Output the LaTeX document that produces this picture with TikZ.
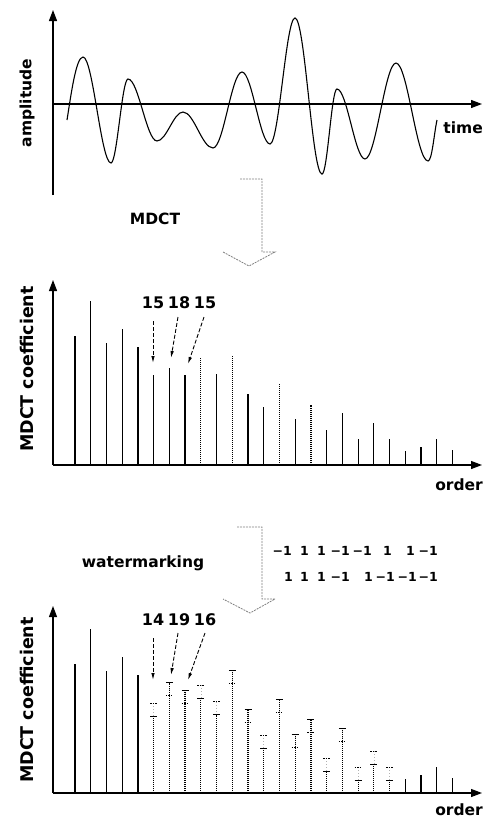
\documentclass[tikz,border=0pt]{standalone}
\usepackage{fontspec}
\setmainfont{DejaVu Sans}
\usetikzlibrary{arrows.meta}
\begin{document}
\begin{tikzpicture}[x=1pt,y=-1pt,
  axis/.style={line width=1.2pt,-{Triangle[length=11pt,width=8pt]}},
  lbl/.style={font=\bfseries\fontsize{15.5}{18}\selectfont, inner sep=0pt},
  vlbl/.style={font=\bfseries\fontsize{17.5}{20}\selectfont, inner sep=0pt, rotate=90},
  num/.style={font=\bfseries\fontsize{16}{18}\selectfont, inner sep=0pt},
  bits/.style={font=\bfseries\fontsize{12.5}{14}\selectfont, inner sep=0pt, anchor=east},
  larr/.style={line width=0.9pt, dash pattern=on 4pt off 2pt, -{Latex[length=7pt,width=3.5pt]}},
  bigarr/.style={gray, line width=0.8pt, dash pattern=on 2pt off 1pt},
  sbar/.style={line width=1.25pt},
  dbar/.style={line width=1.25pt, dash pattern=on 1.2pt off 0.8pt},
  tickmk/.style={line width=1pt},
  tickd/.style={line width=1pt, dash pattern=on 1.5pt off 1pt},
  faint/.style={gray!60, line width=0.6pt, dash pattern=on 1pt off 2pt}]
\useasboundingbox (0,0) rectangle (490,819);

% ---------- top: signal ----------
\coordinate (o1) at (53,104);
\coordinate (y1b) at (53,195);
\coordinate (y1t) at (53,10);
\coordinate (x1e) at (482,104);
\draw[axis] (y1b) -- (y1t);
\draw[axis] (o1) -- (x1e);
\node[vlbl, font=\bfseries\fontsize{15.5}{18}\selectfont] (amp) at (27,103) {amplitude};
\node[lbl, anchor=east] (time) at (483,128) {time};
\draw[line width=1.1pt] (67,120) .. controls +(4,-25) and +(-7,0) .. (83,57)
 .. controls +(10,0) and +(-10,0) .. (111,163)
 .. controls +(6,0) and +(-6,0) .. (128,79)
 .. controls +(10.5,0) and +(-10.5,0) .. (157,141)
 .. controls +(9.5,0) and +(-9.5,0) .. (183,112)
 .. controls +(11,0) and +(-11,0) .. (213,148)
 .. controls +(10.5,0) and +(-10.5,0) .. (242,72)
 .. controls +(10,0) and +(-10,0) .. (270,144)
 .. controls +(9,0) and +(-9,0) .. (295,18)
 .. controls +(10,0) and +(-10,0) .. (322,174)
 .. controls +(5.5,0) and +(-5.5,0) .. (337,89)
 .. controls +(10,0) and +(-10,0) .. (365,159)
 .. controls +(11,0) and +(-11,0) .. (396,63)
 .. controls +(11.5,0) and +(-11.5,0) .. (428,161)
 .. controls +(4,0) and +(-3,14) .. (437,120);

% ---------- MDCT arrow ----------
\draw[bigarr] (240,179) -- (262,179) -- (262,252) -- (275,252) -- (249,266) -- (223,252);
\node[lbl] (mdct) at (155,219) {MDCT};

% ---------- middle: MDCT coefficients ----------
\coordinate (o2) at (53,465);
\coordinate (y2t) at (53,280);
\coordinate (x2e) at (482,465);
\draw[axis] (o2) -- (y2t);
\draw[axis] (o2) -- (x2e);
\node[vlbl] (coef2) at (27,369) {MDCT coefficient};
\node[lbl, anchor=east] (ord2) at (483,485) {order};
\foreach \i/\h/\s in {1/129.3/sbar,2/164/sbar,3/122.3/sbar,4/136.3/sbar,5/118.3/sbar,
  6/89.7/sbar,7/97.3/sbar,8/89.7/sbar,9/107.7/dbar,10/91.3/sbar,11/109.7/dbar,
  12/71/sbar,13/57.7/sbar,14/80.7/dbar,15/45.7/sbar,16/60.3/dbar,17/35/sbar,
  18/51.7/sbar,19/25.7/sbar,20/42/sbar,21/25.7/sbar,22/13.7/sbar,23/17.7/sbar,
  24/25.7/sbar,25/14.7/sbar}
  \draw[\s] ({75+(\i-1)*15.73},465) -- ++(0,-\h);
\node[num] (n15a) at (153,303) {15};
\node[num] (n18) at (179,303) {18};
\node[num] (n15b) at (205,303) {15};
\coordinate (a1s) at (153,321); \coordinate (a1e) at (153,363);
\coordinate (a2s) at (178,317); \coordinate (a2e) at (171,358);
\coordinate (a3s) at (204,317); \coordinate (a3e) at (188,364);
\draw[larr] (a1s) -- (a1e);
\draw[larr] (a2s) -- (a2e);
\draw[larr] (a3s) -- (a3e);

% ---------- watermarking arrow ----------
\draw[bigarr] (237,527) -- (262,527) -- (262,599) -- (275,599) -- (250,613) -- (223,599);
\node[lbl] (wm) at (143,563) {watermarking};
\foreach \t/\x in {{−1}/292,1/309,1/326,{−1}/350,{−1}/372,1/392,1/415,{−1}/438}
  \node[bits] at (\x,551) {\t};
\foreach \t/\x in {1/293,1/309,1/326,{−1}/350,1/373,{−1}/395,{−1}/417,{−1}/438}
  \node[bits] at (\x,577) {\t};

% ---------- bottom: watermarked coefficients ----------
\coordinate (o3) at (53,793);
\coordinate (y3t) at (53,606);
\coordinate (x3e) at (482,793);
\draw[axis] (o3) -- (y3t);
\draw[axis] (o3) -- (x3e);
\node[vlbl] (coef3) at (27,700) {MDCT coefficient};
\node[lbl, anchor=east] (ord3) at (483,810) {order};
\foreach \i/\h in {1/129.3,2/164,3/122.3,4/136.3,5/118.3,22/13.7,23/17.7,24/25.7,25/14.7}
  \draw[sbar] ({75+(\i-1)*15.73},793) -- ++(0,-\h);
\foreach \i/\h/\b in {6/89.7/-1,7/97.3/1,8/89.7/1,9/107.7/-1,10/91.3/-1,11/109.7/1,
  12/71/1,13/57.7/-1,14/80.7/1,15/45.7/1,16/60.3/1,17/35/-1,18/51.7/1,19/25.7/-1,
  20/42/-1,21/25.7/-1}{
  \pgfmathsetmacro\xx{75+(\i-1)*15.73}
  \pgfmathsetmacro\nh{\h+13*\b}
  \draw[faint] (\xx,793-\h) -- (\xx,793-\nh);
  \draw[dbar] (\xx,793) -- (\xx,793-\nh);
  \draw[tickmk] (\xx-3.5,793-\nh) -- (\xx+3.5,793-\nh);
  \draw[tickd] (\xx-3.5,793-\h) -- (\xx+3.5,793-\h);
}
\node[num] (n14) at (153,620) {14};
\node[num] (n19) at (179,620) {19};
\node[num] (n16) at (205,620) {16};
\coordinate (b1s) at (153,638); \coordinate (b1e) at (153,680);
\coordinate (b2s) at (178,633); \coordinate (b2e) at (171,675);
\coordinate (b3s) at (205,633); \coordinate (b3e) at (188,680);
\draw[larr] (b1s) -- (b1e);
\draw[larr] (b2s) -- (b2e);
\draw[larr] (b3s) -- (b3e);
\end{tikzpicture}
\end{document}
